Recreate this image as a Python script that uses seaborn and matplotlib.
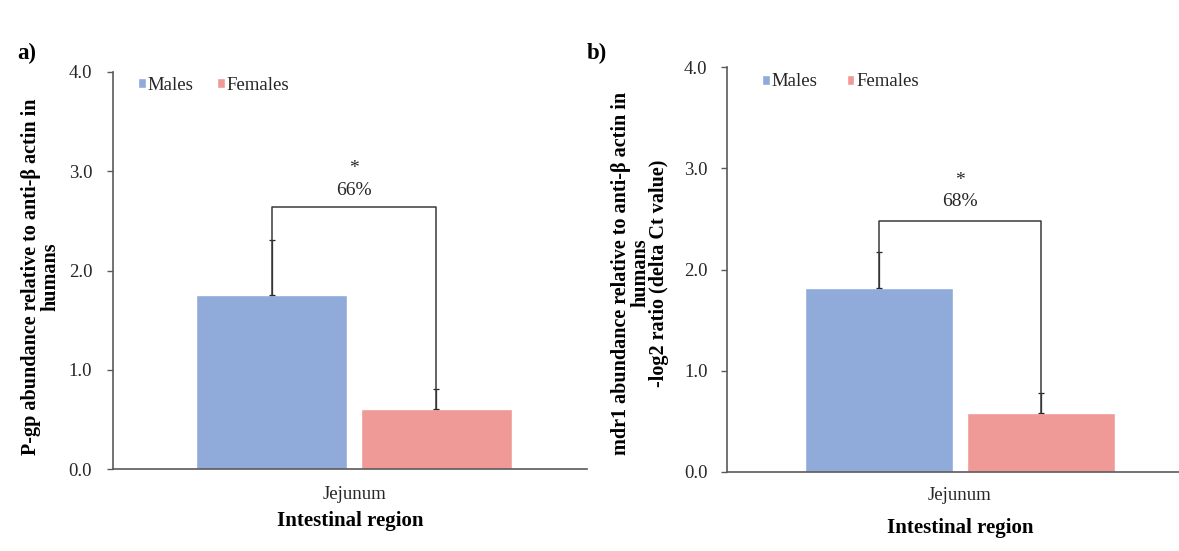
import matplotlib
matplotlib.use("Agg")
import matplotlib.pyplot as plt
import seaborn as sns
import pandas as pd

# Data: P-gp protein (panel a) and mdr1 mRNA (panel b) in human jejunum
regions = ["Jejunum"]
sexes = ["Males", "Females"]
pgp_mean = [1.75, 0.60]
pgp_err = [0.56, 0.21]
mdr1_mean = [1.82, 0.58]
mdr1_err = [0.35, 0.20]
pgp_bracket = 2.64
mdr1_bracket = 2.48
pgp_diff = "66%"
mdr1_diff = "68%"
yticks = [0.0, 1.0, 2.0, 3.0, 4.0]

colors = {"Males": "#90AAD9", "Females": "#F09A97"}
ink = "#262626"
axis_grey = "#5a5a5a"

sns.set_theme(style="white")
plt.rcParams["font.family"] = ["Liberation Serif", "DejaVu Serif"]

fig = plt.figure(figsize=(11.79, 5.51), dpi=100)
fig.patch.set_facecolor("white")

TXT = 13.5


def panel(rect, xlim, means, errs, bracket, diff, ylabel, ylab_xy, tag_xy, tag,
          ytick_pad, xtick_pad, xlabpad, leg_anchor, colspace, pct_off, star_off):
    ax = fig.add_axes(rect)
    df = pd.DataFrame({"region": regions * len(sexes), "sex": sexes, "value": means})
    sns.barplot(data=df, x="region", y="value", hue="sex", hue_order=sexes,
                palette=colors, width=0.695, gap=0.085, errorbar=None,
                saturation=1, ax=ax)
    bars = ax.patches[:len(sexes)]
    xs = [b.get_x() + b.get_width() / 2 for b in bars]
    # upper error bars only
    ax.errorbar(xs, means, yerr=[[0] * len(errs), errs], fmt="none",
                ecolor=ink, elinewidth=0.9, capsize=2, capthick=0.9, zorder=3)
    # significance bracket
    ax.plot([xs[0], xs[0], xs[1], xs[1]], [means[0], bracket, bracket, means[1]],
            color="#3a3a3a", lw=1.1, zorder=4)
    xm = (xs[0] + xs[1]) / 2
    ax.annotate(diff, (xm, bracket), xytext=(0, pct_off), textcoords="offset points",
                ha="center", va="center", fontsize=14, color=ink)
    ax.annotate("*", (xm, bracket), xytext=(0, star_off), textcoords="offset points",
                ha="center", va="center", fontsize=14, color=ink)

    ax.set_xlim(*xlim)
    ax.set_ylim(0, 4)
    ax.set_yticks(yticks)
    ax.set_yticklabels([f"{t:.1f}" for t in yticks])
    for s in ["top", "right"]:
        ax.spines[s].set_visible(False)
    for s in ["left", "bottom"]:
        ax.spines[s].set_color(axis_grey)
        ax.spines[s].set_linewidth(1.2)
    ax.tick_params(axis="y", direction="out", length=4, width=1.0,
                   color=axis_grey, labelsize=TXT, labelcolor=ink, pad=ytick_pad,
                   left=True)
    ax.tick_params(axis="x", length=0, labelsize=TXT, labelcolor=ink, pad=xtick_pad)
    ax.set_xlabel("Intestinal region", fontsize=15, fontweight="bold",
                  color="black", labelpad=xlabpad)
    ax.set_ylabel("")
    ax.grid(False)
    ax.set_facecolor("white")

    fig.text(ylab_xy[0], ylab_xy[1], ylabel, rotation=90, ha="center",
             va="center", fontsize=14.5, fontweight="bold", color="black",
             multialignment="center", linespacing=0.95)
    fig.text(tag_xy[0], tag_xy[1], tag, fontsize=16.5, fontweight="bold",
             color="black", ha="left", va="center")

    sns.move_legend(ax, "center left", bbox_to_anchor=leg_anchor,
                    bbox_transform=fig.transFigure, ncol=2, frameon=False,
                    title=None, fontsize=TXT, handlelength=0.4,
                    handleheight=0.4, handletextpad=0.12,
                    columnspacing=colspace, borderaxespad=0, borderpad=0)
    for t in ax.get_legend().get_texts():
        t.set_color(ink)
    return ax


W, H = 1179, 551
panel([113 / W, 1 - 469 / H, 474 / W, 397 / H], (-0.5085, 0.4915),
      pgp_mean, pgp_err, pgp_bracket,
      pgp_diff, "P-gp abundance relative to anti-β actin in\nhumans",
      (41 / W, 1 - 277 / H), (17 / W, 1 - 53 / H), "a)",
      11, 12, 6, (138 / W, 1 - 85 / H), 1.25, 12, 28)

panel([727 / W, 1 - 472 / H, 466 / W, 405 / H], (-0.5, 0.5),
      mdr1_mean, mdr1_err, mdr1_bracket,
      mdr1_diff,
      "mdr1 abundance relative to anti-β actin in\nhumans\n-log2 ratio (delta Ct value)",
      (640 / W, 1 - 273 / H), (587 / W, 1 - 53 / H), "b)",
      10, 10.5, 10.5, (762 / W, 1 - 82 / H), 1.55, 14, 29)

fig.savefig("out.png", dpi=100, facecolor="white")
